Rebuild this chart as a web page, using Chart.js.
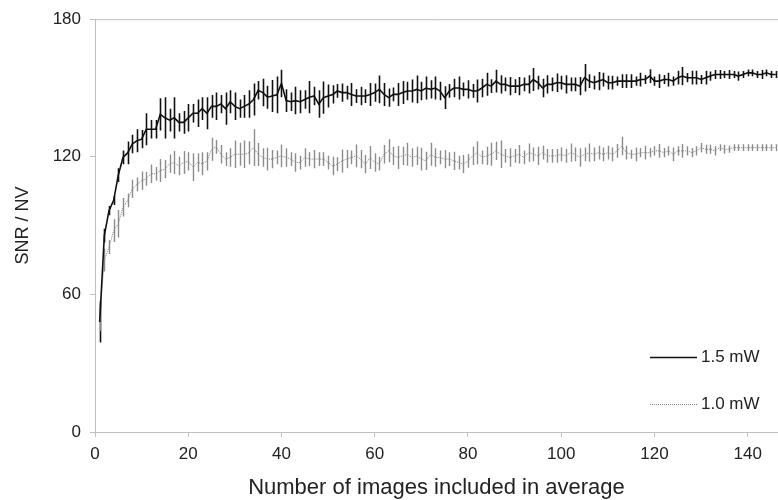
<!DOCTYPE html>
<html>
<head>
<meta charset="utf-8">
<script src="https://cdn.jsdelivr.net/npm/chart.js@4"></script>
<style>
  html, body { margin: 0; padding: 0; background: #fff; }
  #wrap { width: 778px; height: 500px; }
</style>
</head>
<body>
<div id="wrap"><canvas id="snrChart" width="778" height="500"></canvas></div>
<script>
// --- DATI ---
const snr15 = [
  48, 85.6, 96.5, 101, 112, 119.7, 121.7, 125.6, 127, 127.7, 132, 132, 132, 138.5, 137, 136, 137, 135, 135, 137, 139, 139, 141, 139,
  142, 142, 143, 141, 144, 142, 141, 142, 143, 145, 149, 148, 146, 146.5, 147, 152, 144.5, 144, 144.5, 144, 145, 146, 146.5, 143,
  145.8, 146.5, 147.2, 148.7, 148, 148, 147.2, 146.5, 146.5, 146.5, 147.2, 148, 149.4, 147.2, 145.8, 147.2, 147.2, 148, 148.7, 148.7, 149.4, 148.7, 150, 149.4,
  150, 148.7, 145.8, 148.7, 150, 150, 149.4, 149.4, 148.7, 148.7, 150, 151.6, 150.8, 153, 151.6, 151.6, 150.8, 150.8, 150.8, 151.6, 151.6, 153.7, 152.3, 150,
  151.6, 151.6, 152.3, 152.3, 151.6, 151.6, 151.6, 150.8, 154.5, 153, 152.3, 153, 153.7, 152.3, 152.3, 153, 153, 153, 153, 153, 153.7, 153.7, 155.2, 153,
  153, 153.7, 153.7, 153, 154.5, 155.2, 154.5, 154.5, 154.5, 153.7, 154.5, 155.2, 155.9, 155.9, 155.9, 155.9, 155.9, 155.2, 155.9, 156.6, 156.6, 155.9, 155.9, 156.6, 155.9, 155.9
];
const err15 = [
  9, 3, 2, 2, 3, 3, 5, 4, 5, 4, 7, 4, 4, 7, 9, 5, 9, 4, 5, 6, 4, 6, 5, 7,
  5, 6, 4, 7, 5, 6, 4, 5, 6, 7, 4, 6, 5, 7, 8, 6, 5, 4, 6, 5, 4, 7, 4, 6,
  7, 5, 4, 3, 4, 3, 5, 3, 4, 3, 5, 4, 6, 5, 4, 3, 5, 5, 4, 5, 6, 4, 5, 4,
  5, 4, 5, 3, 4, 5, 3, 4, 3, 5, 4, 5, 3, 5, 4, 3, 4, 3, 4, 3, 4, 5, 3, 4,
  4, 3, 4, 3, 4, 3, 3, 4, 6, 3, 3, 4, 3, 3, 3, 2, 3, 3, 3, 2, 3, 2, 3, 2,
  3, 2, 3, 2, 3, 4, 2, 3, 3, 2, 3, 2, 2, 2, 1.5, 2, 1.5, 2, 1.5, 1.5, 1.5, 1.5, 2, 1.5, 1.5, 1.5
];
const snr10 = [
  50, 75, 80.6, 87.8, 90.8, 98, 101, 106, 108, 109.6, 110.4, 112.6, 112.6, 114, 114.6, 117, 117.5, 116, 117.5, 118, 115.5, 117.5, 117, 118,
  123.3, 124.3, 121.1, 119, 119.7, 121.1, 121.1, 121.1, 121.8, 124, 121, 119.7, 119, 119, 119.7, 120.4, 119.7, 119, 117.5, 117.5, 119.7, 119, 119, 119,
  119, 117.5, 116, 116.8, 118.2, 119, 119.7, 120.4, 119, 116.8, 119.7, 117.5, 117, 121.1, 122.6, 120.4, 119.7, 120.4, 121.1, 119.7, 120.4, 119, 118.2, 121.1,
  119.7, 119.7, 119, 119, 118.2, 117.5, 116.8, 118.2, 120.4, 121.8, 119.7, 120.4, 121.1, 122.6, 121.1, 120.4, 119.7, 120.4, 121.1, 119.7, 121.8, 121.1, 120.4, 121.8,
  120.4, 120.4, 120.4, 121.1, 120.4, 121.8, 121.1, 119.7, 121.1, 121.8, 121.1, 121.8, 121.1, 121.8, 121.1, 122.6, 124.7, 121.8, 121.1, 121.1, 121.8, 121.8, 121.8, 122.6,
  122.6, 121.8, 122.6, 121.1, 122.6, 122.6, 122.6, 121.8, 122.6, 124, 123.3, 123.3, 122.6, 124, 123.3, 123.3, 124, 124, 124, 124, 124, 124, 124, 124, 124, 124
];
const err10 = [
  6, 5, 3, 5, 6, 4, 3, 4, 3, 4, 3, 4, 3, 5, 4, 4, 5, 4, 5, 4, 6, 4, 5, 4,
  5, 3, 4, 3, 4, 6, 5, 6, 5, 8, 5, 4, 5, 4, 3, 5, 4, 3, 4, 3, 4, 3, 4, 3,
  3, 3, 4, 3, 5, 4, 3, 5, 4, 4, 5, 4, 3, 4, 5, 4, 5, 4, 5, 4, 4, 5, 4, 5,
  4, 3, 4, 3, 4, 3, 4, 3, 4, 5, 3, 4, 5, 4, 6, 3, 4, 3, 4, 3, 4, 3, 4, 3,
  3, 3, 3, 3, 3, 4, 3, 4, 3, 4, 3, 3, 3, 3, 3, 3, 4, 3, 2, 3, 2, 3, 2, 2,
  3, 2, 2, 3, 2, 3, 2, 2, 2, 2, 2, 2, 2, 1.5, 2, 1.5, 1.5, 1.5, 1.5, 1.5, 1.5, 1.5, 1.5, 1.5, 1.5, 1.5
];
// numero di immagini (asse x)
const images = snr15.map((_, i) => i + 1);
const xTicks = [0, 20, 40, 60, 80, 100, 120, 140];
const yTicks = [0, 60, 120, 180];
const seriesLabels = ['1.5 mW', '1.0 mW'];

const FONT = '"Liberation Sans", Arial, sans-serif';
const AXIS = '#bfbfbf';
const TEXT = '#222';

// --- BARRE DI ERRORE ---
const errorBars = {
  id: 'errorBars',
  beforeDatasetsDraw(chart) {
    const { ctx, chartArea, scales: { x, y } } = chart;
    ctx.save();
    ctx.beginPath();
    ctx.rect(chartArea.left, chartArea.top, chartArea.right - chartArea.left, chartArea.bottom - chartArea.top);
    ctx.clip();
    chart.data.datasets.forEach(ds => {
      ctx.strokeStyle = ds.errColor;
      ctx.lineWidth = ds.errWidth;
      ds.data.forEach((p, i) => {
        const e = ds.errors[i];
        const px = Math.round(x.getPixelForValue(p.x)) + 0.5;
        ctx.beginPath();
        ctx.moveTo(px, y.getPixelForValue(p.y - e));
        ctx.lineTo(px, y.getPixelForValue(p.y + e));
        ctx.stroke();
      });
    });
    ctx.restore();
  }
};

// --- LEGENDA ---
const cornerLegend = {
  id: 'cornerLegend',
  afterDraw(chart) {
    const { ctx } = chart;
    const rows = [357, 404];
    ctx.save();
    chart.data.datasets.forEach((ds, i) => {
      const yy = rows[i] + 0.5;
      ctx.strokeStyle = ds.borderColor;
      ctx.lineWidth = ds.borderWidth;
      ctx.setLineDash(ds.borderDash || []);
      ctx.beginPath();
      ctx.moveTo(650, yy);
      ctx.lineTo(697, yy);
      ctx.stroke();
      ctx.setLineDash([]);
      ctx.fillStyle = TEXT;
      ctx.font = '17px ' + FONT;
      ctx.textBaseline = 'middle';
      ctx.fillText(ds.label, 701, rows[i]);
    });
    ctx.restore();
  }
};

// --- BORDO SUPERIORE ---
const topBorder = {
  id: 'topBorder',
  afterDraw(chart) {
    const { ctx, chartArea } = chart;
    ctx.save();
    ctx.strokeStyle = AXIS;
    ctx.lineWidth = 1;
    ctx.beginPath();
    ctx.moveTo(chartArea.left, chartArea.top + 0.5);
    ctx.lineTo(chartArea.right, chartArea.top + 0.5);
    ctx.stroke();
    ctx.restore();
  }
};

new Chart(document.getElementById('snrChart'), {
  type: 'line',
  data: {
    datasets: [
      {
        label: seriesLabels[0],
        data: images.map((n, i) => ({ x: n, y: snr15[i] })),
        errors: err15,
        borderColor: '#111',
        borderWidth: 1.6,
        errColor: '#111',
        errWidth: 1.6,
        pointRadius: 0,
        tension: 0
      },
      {
        label: seriesLabels[1],
        data: images.map((n, i) => ({ x: n, y: snr10[i] })),
        errors: err10,
        borderColor: '#808080',
        borderWidth: 1,
        borderDash: [1, 1],
        errColor: '#8c8c8c',
        errWidth: 1.4,
        pointRadius: 0,
        tension: 0
      }
    ]
  },
  options: {
    responsive: false,
    animation: false,
    layout: { padding: { top: 18, right: 0, left: 0, bottom: 0 } },
    plugins: { legend: { display: false }, tooltip: { enabled: false } },
    scales: {
      x: {
        type: 'linear',
        min: 0,
        max: 146.5,
        afterBuildTicks: s => { s.ticks = xTicks.map(v => ({ value: v })); },
        afterFit: s => { s.height = 68; },
        grid: { display: true, drawOnChartArea: false, drawTicks: true, tickLength: 5, color: AXIS },
        border: { color: AXIS },
        ticks: { color: TEXT, font: { family: FONT, size: 17 }, padding: 7, maxRotation: 0 },
        title: { display: true, text: 'Number of images included in average', color: TEXT, font: { family: FONT, size: 22, lineHeight: 1.1 }, padding: { top: 12, bottom: 0 } }
      },
      y: {
        min: 0,
        max: 180,
        afterBuildTicks: s => { s.ticks = yTicks.map(v => ({ value: v })); },
        afterFit: s => { s.width = 95; },
        grid: { display: true, drawOnChartArea: false, drawTicks: true, tickLength: 5, color: AXIS },
        border: { color: AXIS },
        ticks: { color: TEXT, font: { family: FONT, size: 17 }, padding: 9 },
        title: { display: true, text: 'SNR / NV', color: TEXT, font: { family: FONT, size: 18 }, padding: { top: 12, bottom: 0 } }
      }
    }
  },
  plugins: [errorBars, cornerLegend, topBorder]
});
</script>
</body>
</html>
